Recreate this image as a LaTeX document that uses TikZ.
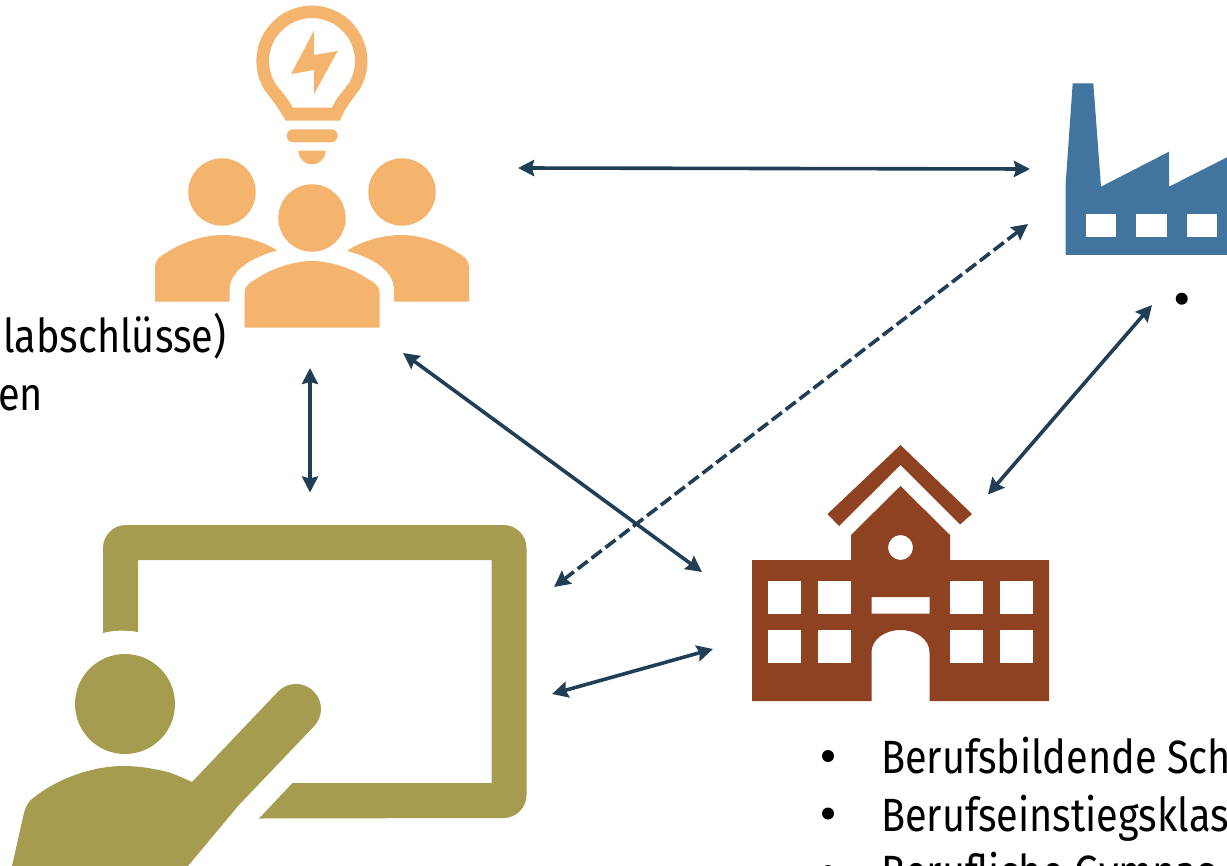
\documentclass[tikz,border=0pt]{standalone}
\usepackage{fontspec}
\setmainfont[FakeStretch=0.85]{Fira Sans}
\usetikzlibrary{arrows.meta}
\definecolor{ideas}{HTML}{F4B46E}
\definecolor{factory}{HTML}{41749E}
\definecolor{school}{HTML}{8E4222}
\definecolor{teacher}{HTML}{A59C50}
\definecolor{link}{HTML}{203E55}
\tikzset{
  x=0.75pt,y=-0.75pt,
  linkarrow/.style={draw=link,line width=2.7pt,{Stealth[length=12pt,width=12pt,inset=1.5pt]}-{Stealth[length=12pt,width=12pt,inset=1.5pt]}},
  linkdash/.style={linkarrow,dash pattern=on 9.5pt off 3.6pt},
  label/.style={anchor=base west,inner sep=0pt,outer sep=0pt,font=\fontsize{35}{35}\selectfont,text=black},
  dotmark/.style={fill=black,draw=none,circle,minimum size=9pt,inner sep=0pt},
}
\begin{document}
\begin{tikzpicture}
\useasboundingbox (0,0) rectangle (1227,866);
\clip (0,0) rectangle (1227,866);
% ---- people + bulb
\fill[ideas,even odd rule] (285.7,120.7) .. controls (281,112) and (274,102) .. (264.5,90) arc [start angle=148.6,end angle=391.4,radius=55.5] .. controls (350,102) and (343,112) .. (340,120.7) -- cycle
  (292.7,107.7) .. controls (289,100) and (282,92) .. (275.2,83.3) arc [start angle=148.9,end angle=391.1,radius=43] .. controls (342,92) and (335,100) .. (332,107.7) -- cycle;
\fill[ideas] (314,30.7) -- (291,74) -- (314,70) -- (314,94) -- (337.7,51) -- (314,55) -- cycle;
\fill[ideas,rounded corners=4.8pt] (286.7,129.3) rectangle (337.7,142.3);
\fill[ideas] (298.3,150.7) -- (325.7,150.7) arc [start angle=0,end angle=180,radius=13.7] -- cycle;
\fill[ideas] (222,192) circle [radius=33.7];
\fill[ideas] (402,192) circle [radius=33.7];
\fill[ideas] (312,218) circle [radius=33.7];
\fill[ideas] (155,301.5) -- (155,267) .. controls (155,260) and (160,256) .. (166,253) .. controls (182,242) and (205,235) .. (222,235) .. controls (241,235) and (263,241) .. (277,250.5) .. controls (253,257) and (229.5,270) .. (229.5,290) -- (229.5,301.5) -- cycle;
\fill[ideas] (469,301.5) -- (469,267) .. controls (469,260) and (464,256) .. (458,253) .. controls (442,242) and (419,235) .. (402,235) .. controls (383,235) and (361,241) .. (347,251) .. controls (371,257) and (394,270) .. (394,290) -- (394,301.5) -- cycle;
\fill[ideas] (244.5,327.5) -- (244.5,293) .. controls (244.5,286) and (250,282) .. (256,279) .. controls (272,268) and (295,261) .. (312,261) .. controls (329,261) and (352,268) .. (368,279) .. controls (374,282) and (379.5,286) .. (379.5,293) -- (379.5,327.5) -- cycle;
% ---- factory
\fill[factory] (1065.7,255) -- (1065.7,183) -- (1072.7,83.3) -- (1093.3,83.3) -- (1101,186.7) -- (1169,151.7) -- (1169,186.7) -- (1227,157.3) -- (1227,255) -- cycle;
\foreach \xa in {1085.7,1136.3,1187}
  \fill[white] (\xa,214.3) rectangle ++(30.3,22.4);
% ---- school
\fill[school] (827.5,514) -- (900.5,445) -- (972,514) -- (960,524.5) -- (900.5,465) -- (839,526) -- cycle;
\fill[school,even odd rule] (752,701) -- (752,560) -- (851,560) -- (851,535) -- (900.5,486) -- (950,535) -- (950,560) -- (1049,560) -- (1049,701) -- (929.5,701) -- (929.5,652) arc [start angle=0,end angle=-180,x radius=29,y radius=22] -- (871.5,701) -- cycle
  (900.5,547.5) circle [radius=12.5]
  (871.5,597) rectangle (929.5,613.7);
\foreach \xa in {768.3,818,950,1000}
  \foreach \ya in {580.7,630.3}
    \fill[white] (\xa,\ya) rectangle ++(33,33);
% ---- teacher
\fill[teacher] (103,633) -- (103,548) arc [start angle=180,end angle=270,radius=23] -- (503.5,525) arc [start angle=-90,end angle=0,radius=23] -- (526.5,795) arc [start angle=0,end angle=90,radius=23] -- (259,818.5) -- (292.5,783) -- (491.5,783) -- (491.5,560) -- (138,560) -- (138,632) .. controls (127,630) and (114,630) .. (103,633) -- cycle;
\fill[teacher] (125,704) circle [radius=50];
\fill[teacher] (12,866) -- (24,813) .. controls (26,806) and (28,802) .. (32,799) .. controls (55,780) and (90,766) .. (124,766) .. controls (140,766) and (155,769) .. (168,772) .. controls (177,775) and (185,779) .. (192,782) -- (278.3,691.3) arc [start angle=-135,end angle=45,radius=25] -- (238,806) -- (188,866) -- cycle;
% ---- text
\node[label] (t1) at (3,352.6) {labschlüsse)};
\node[label] (t2) at (-2,410.7) {en};
\node[dotmark] (b0) at (1181.7,298.7) {};
\node[dotmark] (b1) at (828,756) {};
\node[dotmark] (b2) at (828,813.5) {};
\node[dotmark] (b3) at (828,871) {};
\node[label] (t3) at (881,773.5) {Berufsbildende Sch};
\node[label] (t4) at (881,831) {Berufseinstiegsklas};
\node[label] (t5) at (881,888.5) {Berufliche Gymnas};
% ---- connector ends
\coordinate (ideasE) at (518,168);
\coordinate (factoryW) at (1030,169);
\coordinate (factorySW) at (1028,224);
\coordinate (teacherNE) at (554,587);
\coordinate (ideasS) at (310,368);
\coordinate (teacherN) at (310,492.5);
\coordinate (ideasSE) at (403,353);
\coordinate (schoolW) at (702,572);
\coordinate (teacherE) at (552,694);
\coordinate (schoolSW) at (713,649);
\coordinate (factoryS) at (1152,305);
\coordinate (schoolNE) at (988,494.5);
\draw[linkarrow] (ideasE) -- (factoryW);
\draw[linkdash] (factorySW) -- (teacherNE);
\draw[linkarrow] (ideasS) -- (teacherN);
\draw[linkarrow] (ideasSE) -- (schoolW);
\draw[linkarrow] (teacherE) -- (schoolSW);
\draw[linkarrow] (factoryS) -- (schoolNE);
\end{tikzpicture}
\end{document}
